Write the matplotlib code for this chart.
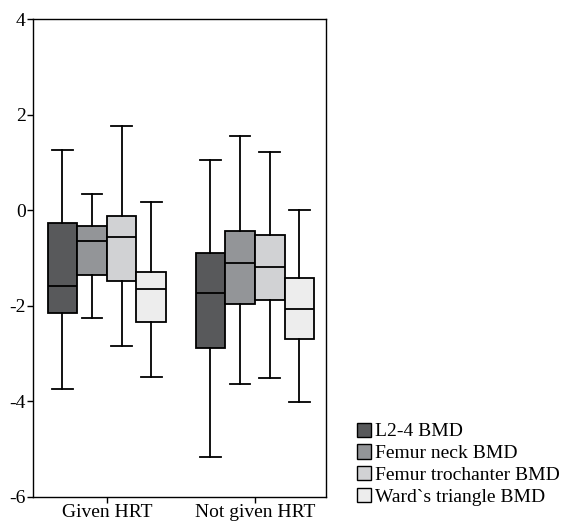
import numpy as np
import matplotlib.pyplot as plt
from matplotlib.patches import Patch

plt.rcParams['font.family'] = ['Liberation Serif', 'DejaVu Serif']

# Grupos y variables
grupos = ['Given HRT', 'Not given HRT']
series = ['L2-4 BMD', 'Femur neck BMD', 'Femur trochanter BMD', 'Ward`s triangle BMD']
colores = ['#58595b', '#939598', '#d1d2d4', '#ededed']

# Valores (bigote inf, Q1, mediana, Q3, bigote sup)
# filas: series, columnas: grupos
bigote_inf = [[-3.73, -5.16], [-2.26, -3.64], [-2.84, -3.50], [-3.49, -4.01]]
q1 = [[-2.15, -2.88], [-1.345, -1.97], [-1.48, -1.87], [-2.34, -2.70]]
mediana = [[-1.575, -1.735], [-0.64, -1.094], [-0.565, -1.19], [-1.65, -2.06]]
q3 = [[-0.265, -0.885], [-0.32, -0.425], [-0.13, -0.52], [-1.30, -1.42]]
bigote_sup = [[1.27, 1.045], [0.33, 1.555], [1.77, 1.22], [0.17, 0.0]]

fig = plt.figure(figsize=(5.68, 5.29), dpi=100)
ax = fig.add_axes([0.0576, 0.0605, 0.5164, 0.9035])

ancho = 0.2
desplaz = [-0.3, -0.1, 0.1, 0.3]
for i in range(len(series)):
    stats = []
    for j in range(len(grupos)):
        stats.append({'whislo': bigote_inf[i][j], 'q1': q1[i][j], 'med': mediana[i][j],
                      'q3': q3[i][j], 'whishi': bigote_sup[i][j], 'fliers': []})
    pos = [j + 1 + desplaz[i] for j in range(len(grupos))]
    ax.bxp(stats, positions=pos, widths=ancho, capwidths=ancho * 0.7,
           patch_artist=True, showfliers=False,
           boxprops=dict(facecolor=colores[i], edgecolor='black', linewidth=1.3),
           medianprops=dict(color='black', linewidth=1.3),
           whiskerprops=dict(color='black', linewidth=1.3),
           capprops=dict(color='black', linewidth=1.3),
           manage_ticks=False)

ax.set_xlim(0.5, 2.48)
ax.set_ylim(-6, 4)
ax.set_yticks([-6, -4, -2, 0, 2, 4])
ax.set_yticklabels(['-6', '-4', '-2', '0', '2', '4'])
ax.set_xticks([1, 2])
ax.set_xticklabels(grupos)
ax.tick_params(labelsize=14, length=4, width=1, pad=1)
for s in ax.spines.values():
    s.set_linewidth(1)

handles = [Patch(facecolor=c, edgecolor='black', linewidth=1) for c in colores]
fig.legend(handles, series, loc='upper left', bbox_to_anchor=(0.614, 0.216),
           frameon=False, fontsize=14, handlelength=0.75, handleheight=0.75,
           handletextpad=0.2, labelspacing=0.2, borderaxespad=0)

plt.savefig('out.png', dpi=100)
